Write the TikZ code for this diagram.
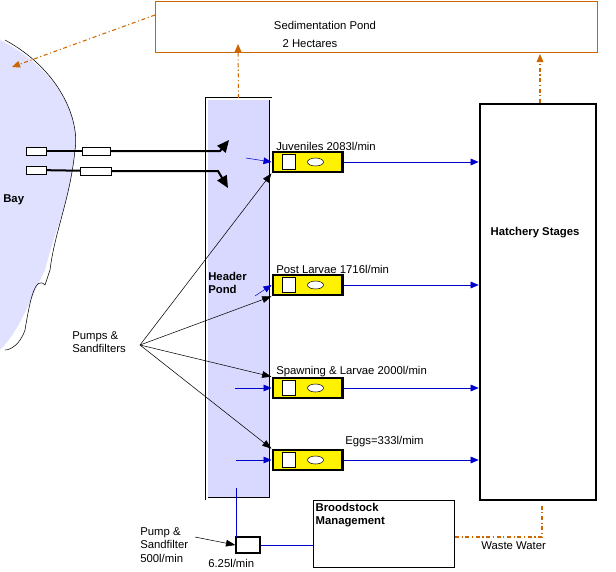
\documentclass[tikz,border=0pt]{standalone}
\usepackage{fontspec}
\setmainfont{Liberation Sans}
\usetikzlibrary{arrows.meta,shapes.geometric}
\begin{document}
\begin{tikzpicture}[x=0.75pt,y=-0.75pt,font=\fontsize{8.5pt}{10pt}\selectfont,
 orng/.style={draw=orange!80!black,line width=0.8pt,dash dot},
 blu/.style={draw=blue!80!black,-{Triangle[length=6pt,width=5pt]}},
 blk/.style={draw=black,-{Triangle[length=7pt,width=5pt]}},
 pumpbox/.style={draw=black,line width=2pt,fill=yellow,minimum width=52pt,minimum height=15pt,inner sep=0pt},
 lbl/.style={anchor=west,inner sep=0pt}]
\useasboundingbox (0,0) rectangle (616,571);
% Bay
\fill[blue!12] (0,40) .. controls (60,70) and (80,120) .. (75,150) .. controls (70,200) and (55,230) .. (45,270) .. controls (30,300) and (20,330) .. (0,350) -- cycle;
\draw[thin] (5,40) .. controls (60,70) and (80,120) .. (75,150) .. controls (70,200) and (55,230) .. (50,270) -- (45,285) .. controls (35,275) and (30,300) .. (25,330) .. controls (20,345) and (10,350) .. (5,350);
\node[font=\bfseries\fontsize{8.5pt}{10pt}\selectfont,lbl] (bay) at (3,200) {Bay};
% Sedimentation
\node[draw=orange!80!black,minimum width=331.5pt,minimum height=38pt,inner sep=0pt] (sed) at (376,27) {};
\node (sedt) at (325,25) {Sedimentation Pond};
\node (sedh) at (310,44) {2 Hectares};
\coordinate (bayend) at (12,67);
\coordinate (sedw) at (155,15);
\draw[orng,-{Triangle[length=6pt,width=5pt]}] (sedw) -- (bayend);
% Header pond
\node[draw,double,double distance=1.5pt,fill=blue!15,minimum width=48pt,minimum height=300pt,inner sep=0pt] (hp) at (238.5,298.5) {};
\node[font=\bfseries\fontsize{8.5pt}{10pt}\selectfont,align=left,lbl] (hpt) at (208,283) {Header\\Pond};
\coordinate (hpup) at (238,44);
\draw[orng,-{Triangle[length=6pt,width=5pt]}] (hp.north) -- (hpup);
% Hatchery
\node[draw,line width=2pt,minimum width=87pt,minimum height=297pt,inner sep=0pt] (hat) at (538,302) {};
\node[font=\bfseries\fontsize{8.5pt}{10pt}\selectfont] (hatt) at (535,233) {Hatchery Stages};
\coordinate (hn) at (540,103);
\coordinate (hnup) at (540,54);
\draw[orng,-{Triangle[length=6pt,width=5pt]}] (hn) -- (hnup);
% intake pipes
\node[draw,fill=white,minimum width=15pt,minimum height=6pt,inner sep=0pt] (i1) at (36,151) {};
\node[draw,fill=white,minimum width=21pt,minimum height=6pt,inner sep=0pt] (f1) at (96,151) {};
\node[draw,fill=white,minimum width=15pt,minimum height=6pt,inner sep=0pt] (i2) at (36,170) {};
\node[draw,fill=white,minimum width=23pt,minimum height=6pt,inner sep=0pt] (f2) at (96,171) {};
\coordinate (a1) at (229,140);
\coordinate (a2) at (228,188);
\draw[line width=1.5pt] (i1) -- (f1);
\draw[line width=1.5pt] (i2) -- (f2);
\draw[line width=1.5pt,-{Triangle[length=9pt,width=8pt]}] (f1) -- (220,151) -- (a1);
\draw[line width=1.5pt,-{Triangle[length=9pt,width=8pt]}] (f2) -- (218,171) -- (a2);
% pump boxes
\foreach \n/\y/\t in {p1/162/{Juveniles 2083l/min},p2/285/{Post Larvae 1716l/min},p3/388/{Spawning \& Larvae 2000l/min}}{
 \node[pumpbox] (\n) at (307.5,\y) {};
 \node[lbl] (\n lab) at (276,\y-16) {\t};
}
\node[pumpbox] (p4) at (307.5,460) {};
\node[lbl] (p4lab) at (345,442) {Eggs=333l/mim};
\foreach \n in {p1,p2,p3,p4}{
 \node[draw,fill=white,minimum width=10pt,minimum height=11pt,inner sep=0pt] (\n s) at ([xshift=-14pt]\n.center) {};
 \node[draw,ellipse,fill=white,minimum width=12pt,minimum height=6pt,inner sep=0pt] (\n e) at ([xshift=6pt]\n.center) {};
 \draw[blu] (\n.east) -- (\n.east-|hat.west);
}
\coordinate (b1) at (246,158);
\coordinate (b2) at (255,296);
\coordinate (b3) at (235,388);
\coordinate (b4) at (236,460);
\draw[blu] (b1) -- (p1.west);
\draw[blu] (b2) -- (p2.west);
\draw[blu] (b3) -- (p3.west);
\draw[blu] (b4) -- (p4.west);
% Pumps & sandfilters
\node[align=left,lbl] (ps) at (72,342) {Pumps \&\\Sandfilters};
\coordinate (pc) at (140,345);
\draw[blk] (pc) -- (p1.south west);
\draw[blk] (pc) -- (p2.south west);
\draw[blk] (pc) -- (p3.north west);
\draw[blk] (pc) -- (p4.north west);
% Broodstock
\node[draw,line width=1pt,minimum width=106pt,minimum height=50pt,inner sep=0pt] (bm) at (384,534) {};
\node[font=\bfseries\fontsize{8.5pt}{10pt}\selectfont,align=left,anchor=north west,inner sep=2pt] (bmt) at (bm.north west) {Broodstock\\Management};
\node[draw,line width=1pt,minimum width=18pt,minimum height=12pt,inner sep=0pt] (sp) at (248,545) {};
\coordinate (hb) at (236,488);
\coordinate (hb2) at (236,537);
\draw[blue!80!black] (hb) -- (hb2);
\draw[blue!80!black] (sp.east) -- (sp.east-|bm.west);
\node[align=left,lbl] (spt) at (140,545) {Pump \&\\Sandfilter\\500l/min};
\coordinate (sc) at (195,537);
\draw[blk] (sc) -- (sp.west);
\node[lbl] (rate) at (208,563) {6.25l/min};
\coordinate (w1) at (455,537);
\coordinate (w2) at (542,537);
\coordinate (w3) at (542,503);
\draw[orng] (w1) -- (w2) -- (w3);
\node[lbl] (ww) at (481,546) {Waste Water};
\end{tikzpicture}
\end{document}
